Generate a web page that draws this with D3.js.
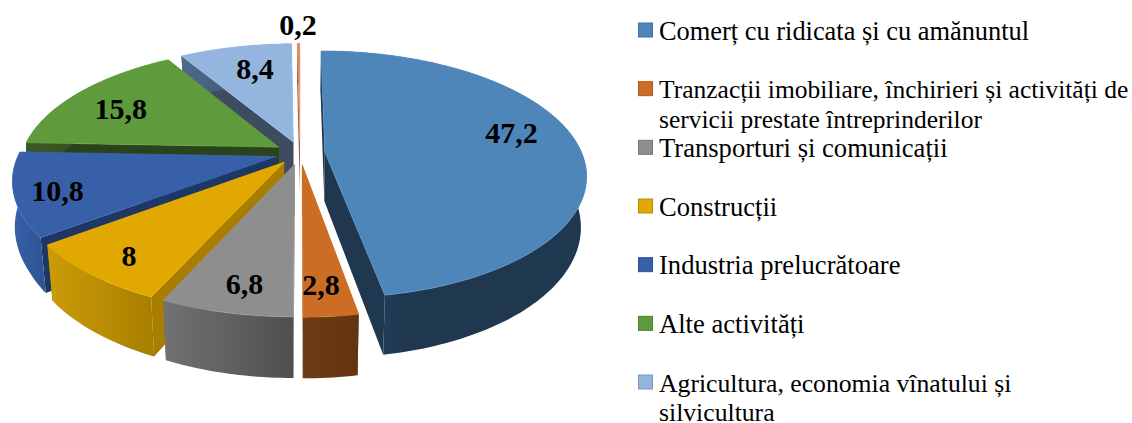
<!DOCTYPE html>
<html><head><meta charset="utf-8">
<script src="https://cdn.jsdelivr.net/npm/d3@7"></script>
<style>html,body{margin:0;padding:0;background:#fff;overflow:hidden}svg{display:block}</style>
</head><body>
<svg id="c" width="1132" height="423"></svg>
<script>
const categories = ["Comerț cu ridicata și cu amănuntul","Tranzacții imobiliare, închirieri și activități de servicii prestate întreprinderilor","Transporturi și comunicații","Construcții","Industria prelucrătoare","Alte activități","Agricultura, economia vînatului și silvicultura","Sector 0,2"];
const legendLines = [["Comerț cu ridicata și cu amănuntul"],["Tranzacții imobiliare, închirieri și activități de","servicii prestate întreprinderilor"],["Transporturi și comunicații"],["Construcții"],["Industria prelucrătoare"],["Alte activități"],["Agricultura, economia vînatului și","silvicultura"]];
const legendWidths = [[371],[470,323],[288],[117],[242],[145],[365,118]];
const legendFont = [26.4,25.5,26.6,26.6,26.6,26.6,25.7];
const values = [47.2,2.8,6.8,8,10.8,15.8,8.4,0.2];
const valueLabels = ["47,2","2,8","6,8","8","10,8","15,8","8,4","0,2"];
const topColors = ["#4f86b9","#cc6d26","#8e8e8e","#e0a800","#3860a8","#5f9a3c","#94b6de","#d98c6c"];
const radialColors = ["#1f3850","#6b3a14","#6a6a6a","#a87d00","#1f3764","#2b431c","#3d4d5f","#8a4a2c"];
const wallStart = ["#2a4d6e","#6e3c16","#727272","#cc9c08","#3860a8","#3a5a26","#4a6a8a","#8a4a2c"];
const wallEnd = ["#1f3850","#62340f","#4f4f4f","#a87f00","#2f5597","#2b431c","#3d4d5f","#8a4a2c"];
const labelNudge = [[10,-12],[0,21],[-5,22],[-26,19],[-38,8],[-15,1],[4,-4],[-1,-45]];

const cx=300, cy=153, explode=0.097, persp=0.182, height=49;
const sx=d3.scaleLinear().domain([0,1]).range([cx,cx+257]);
const sz=d3.scaleLinear().domain([0,1]).range([0,119.8]);
function project(X,Z,h){
  const s=1/(1-persp*Z);
  const f=X>0?0.02:0.02*Math.min(1,Math.abs(Z)/0.5);
  return [cx+(sx(X)-cx)*s*(1-f*h), cy+(sz(Z)+height*h)*s];
}
const pie=d3.pie().sort(null).startAngle(0).endAngle(2*Math.PI).padAngle(0);
const arcs=pie(values).map((a,i)=>{
  const m=(a.startAngle+a.endAngle)/2;
  return {i,a0:a.startAngle,a1:a.endAngle,m,ox:explode*Math.sin(m),oz:-explode*Math.cos(m)};
});
const pt=(d,t,r,h)=>project(d.ox+r*Math.sin(t),d.oz-r*Math.cos(t),h);
const line=d3.line().curve(d3.curveLinearClosed);
const svg=d3.select("#c");
const defs=svg.append("defs");
const rim=d=>{const n=Math.max(2,Math.ceil((d.a1-d.a0)/0.02));return d3.range(n+1).map(k=>d.a0+(d.a1-d.a0)*k/n);};
const order=arcs.slice().sort((p,q)=>p.oz-q.oz);
const gPie=svg.append("g");
order.forEach(d=>{
  const g=gPie.append("g");
  const ts=rim(d);
  const tip0=pt(d,0,0,0), tip1=pt(d,0,0,1);
  [d.a0,d.a1].forEach(t=>{
    g.append("path").attr("d",line([tip0,pt(d,t,1,0),pt(d,t,1,1),tip1])).attr("fill",radialColors[d.i]);
  });
  const topRim=ts.map(t=>pt(d,t,1,0)), botRim=ts.map(t=>pt(d,t,1,1)).reverse();
  const ext=d3.extent(topRim,p=>p[0]);
  const grad=defs.append("linearGradient").attr("id","w"+d.i).attr("gradientUnits","userSpaceOnUse")
    .attr("x1",ext[0]).attr("x2",ext[1]).attr("y1",0).attr("y2",0);
  grad.append("stop").attr("offset",0).attr("stop-color",wallStart[d.i]);
  grad.append("stop").attr("offset",d.i===0?0.3:1).attr("stop-color",wallEnd[d.i]);
  g.append("path").attr("d",line(topRim.concat(botRim))).attr("fill","url(#w"+d.i+")");
  g.append("path").attr("d",line([tip0].concat(topRim))).attr("fill",topColors[d.i])
    .attr("stroke",d3.color(topColors[d.i]).brighter(0.3)).attr("stroke-width",0.6).attr("stroke-linejoin","round");
});
const serif='"Liberation Serif","Times New Roman",serif';
svg.append("g").selectAll("text").data(arcs).join("text")
  .attr("x",d=>pt(d,d.m,0.7,0)[0]+labelNudge[d.i][0])
  .attr("y",d=>pt(d,d.m,0.7,0)[1]+labelNudge[d.i][1])
  .attr("dy","0.34em").attr("text-anchor","middle")
  .attr("font-family",serif).attr("font-weight","bold").attr("font-size",30).attr("fill","#000")
  .text(d=>valueLabels[d.i]);
const rowY=d3.scaleLinear().domain([0,6]).range([39.5,391.5]);
const leg=svg.append("g").selectAll("g").data(legendLines).join("g");
leg.append("rect").attr("x",638.5).attr("y",(d,i)=>rowY(i)-16.5).attr("width",14).attr("height",14)
  .attr("fill",(d,i)=>topColors[i]).attr("stroke",(d,i)=>d3.color(topColors[i]).darker(0.5)).attr("stroke-width",1);
leg.each(function(lines,i){
  d3.select(this).selectAll("text").data(lines).join("text")
    .attr("x",659).attr("y",(l,k)=>rowY(i)+k*29.5)
    .attr("font-family",serif).attr("font-size",legendFont[i]).attr("fill","#000").text(l=>l);
});
</script>
</body></html>
